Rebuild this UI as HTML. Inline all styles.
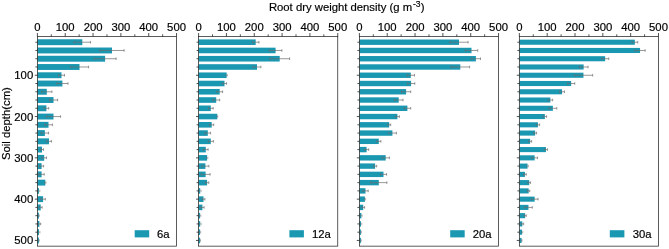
<!DOCTYPE html>
<html><head><meta charset="utf-8"><title>Root dry weight density</title>
<style>html,body{margin:0;padding:0;background:#fff;}body{width:669px;height:249px;overflow:hidden;font-family:"Liberation Sans",sans-serif;}svg text{stroke:#000;stroke-width:0.18px;}</style></head>
<body>
<svg width="669" height="249" viewBox="0 0 669 249" style="display:block;will-change:transform" font-family="Liberation Sans, sans-serif" fill="#000">
<rect width="669" height="249" fill="#fff"/>
<text x="268.9" y="11.4" font-size="11.3">Root dry weight density (g m<tspan font-size="8.5" dx="0.9" dy="-4.7">-3</tspan><tspan dy="4.7" dx="0.3">)</tspan></text>
<text transform="translate(10.1,123.6) rotate(-90)" font-size="11.3" text-anchor="middle">Soil depth(cm)</text>
<rect x="37.40" y="39.26" width="44.90" height="5.9" fill="#1a98b2"/>
<rect x="37.40" y="47.52" width="74.60" height="5.9" fill="#1a98b2"/>
<rect x="37.40" y="55.78" width="67.70" height="5.9" fill="#1a98b2"/>
<rect x="37.40" y="64.04" width="42.10" height="5.9" fill="#1a98b2"/>
<rect x="37.40" y="72.30" width="24.10" height="5.9" fill="#1a98b2"/>
<rect x="37.40" y="80.56" width="25.00" height="5.9" fill="#1a98b2"/>
<rect x="37.40" y="88.82" width="9.40" height="5.9" fill="#1a98b2"/>
<rect x="37.40" y="97.08" width="16.10" height="5.9" fill="#1a98b2"/>
<rect x="37.40" y="105.34" width="9.00" height="5.9" fill="#1a98b2"/>
<rect x="37.40" y="113.60" width="16.10" height="5.9" fill="#1a98b2"/>
<rect x="37.40" y="121.86" width="11.10" height="5.9" fill="#1a98b2"/>
<rect x="37.40" y="130.12" width="7.45" height="5.9" fill="#1a98b2"/>
<rect x="37.40" y="138.38" width="11.60" height="5.9" fill="#1a98b2"/>
<rect x="37.40" y="146.64" width="4.60" height="5.9" fill="#1a98b2"/>
<rect x="37.40" y="154.90" width="6.80" height="5.9" fill="#1a98b2"/>
<rect x="37.40" y="163.16" width="4.20" height="5.9" fill="#1a98b2"/>
<rect x="37.40" y="171.42" width="4.20" height="5.9" fill="#1a98b2"/>
<rect x="37.40" y="179.68" width="7.90" height="5.9" fill="#1a98b2"/>
<rect x="37.40" y="187.94" width="1.50" height="5.9" fill="#1a98b2"/>
<rect x="37.40" y="196.20" width="5.70" height="5.9" fill="#1a98b2"/>
<rect x="37.40" y="204.46" width="3.30" height="5.9" fill="#1a98b2"/>
<rect x="37.40" y="212.72" width="1.50" height="5.9" fill="#1a98b2"/>
<rect x="37.40" y="220.98" width="2.00" height="5.9" fill="#1a98b2"/>
<rect x="37.40" y="229.24" width="1.60" height="5.9" fill="#1a98b2"/>
<rect x="37.40" y="237.50" width="1.50" height="5.9" fill="#1a98b2"/>
<path d="M74.10 42.21H90.50M74.10 40.91v2.6M90.50 40.91v2.6" stroke="#6c6c6c" stroke-width="0.7" stroke-opacity="1" fill="none"/>
<path d="M99.90 50.47H124.10M99.90 49.17v2.6M124.10 49.17v2.6" stroke="#6c6c6c" stroke-width="0.7" stroke-opacity="1" fill="none"/>
<path d="M94.10 58.73H116.10M94.10 57.43v2.6M116.10 57.43v2.6" stroke="#6c6c6c" stroke-width="0.7" stroke-opacity="1" fill="none"/>
<path d="M70.40 66.99H88.60M70.40 65.69v2.6M88.60 65.69v2.6" stroke="#6c6c6c" stroke-width="0.7" stroke-opacity="1" fill="none"/>
<path d="M58.50 75.25H64.50M58.50 73.95v2.6M64.50 73.95v2.6" stroke="#6c6c6c" stroke-width="0.7" stroke-opacity="1" fill="none"/>
<path d="M56.80 83.51H68.00M56.80 82.21v2.6M68.00 82.21v2.6" stroke="#6c6c6c" stroke-width="0.7" stroke-opacity="1" fill="none"/>
<path d="M41.70 91.77H51.90M41.70 90.47v2.6M51.90 90.47v2.6" stroke="#6c6c6c" stroke-width="0.7" stroke-opacity="1" fill="none"/>
<path d="M49.40 100.03H57.60M49.40 98.73v2.6M57.60 98.73v2.6" stroke="#6c6c6c" stroke-width="0.7" stroke-opacity="1" fill="none"/>
<path d="M44.10 108.29H48.70M44.10 106.99v2.6M48.70 106.99v2.6" stroke="#6c6c6c" stroke-width="0.7" stroke-opacity="1" fill="none"/>
<path d="M46.40 116.55H60.60M46.40 115.25v2.6M60.60 115.25v2.6" stroke="#6c6c6c" stroke-width="0.7" stroke-opacity="1" fill="none"/>
<path d="M44.60 124.81H52.40M44.60 123.51v2.6M52.40 123.51v2.6" stroke="#6c6c6c" stroke-width="0.7" stroke-opacity="1" fill="none"/>
<path d="M41.15 133.07H48.55M41.15 131.77v2.6M48.55 131.77v2.6" stroke="#6c6c6c" stroke-width="0.7" stroke-opacity="1" fill="none"/>
<path d="M46.60 141.33H51.40M46.60 140.03v2.6M51.40 140.03v2.6" stroke="#6c6c6c" stroke-width="0.7" stroke-opacity="1" fill="none"/>
<path d="M40.50 149.59H43.50M40.50 148.29v2.6M43.50 148.29v2.6" stroke="#6c6c6c" stroke-width="0.7" stroke-opacity="1" fill="none"/>
<path d="M41.90 157.85H46.50M41.90 156.55v2.6M46.50 156.55v2.6" stroke="#6c6c6c" stroke-width="0.7" stroke-opacity="1" fill="none"/>
<path d="M39.60 166.11H43.60M39.60 164.81v2.6M43.60 164.81v2.6" stroke="#6c6c6c" stroke-width="0.7" stroke-opacity="1" fill="none"/>
<path d="M39.00 174.37H44.20M39.00 173.07v2.6M44.20 173.07v2.6" stroke="#6c6c6c" stroke-width="0.7" stroke-opacity="1" fill="none"/>
<path d="M44.60 182.63H46.00M44.60 181.33v2.6M46.00 181.33v2.6" stroke="#6c6c6c" stroke-width="0.7" stroke-opacity="0.6" fill="none"/>
<path d="M37.90 190.89H39.90M37.90 189.59v2.6M39.90 189.59v2.6" stroke="#6c6c6c" stroke-width="0.7" stroke-opacity="0.6" fill="none"/>
<path d="M40.90 199.15H45.30M40.90 197.85v2.6M45.30 197.85v2.6" stroke="#6c6c6c" stroke-width="0.7" stroke-opacity="1" fill="none"/>
<path d="M39.30 207.41H42.10M39.30 206.11v2.6M42.10 206.11v2.6" stroke="#6c6c6c" stroke-width="0.7" stroke-opacity="1" fill="none"/>
<path d="M38.40 215.67H39.40M38.40 214.37v2.6M39.40 214.37v2.6" stroke="#6c6c6c" stroke-width="0.7" stroke-opacity="0.6" fill="none"/>
<path d="M38.10 223.93H40.70M38.10 222.63v2.6M40.70 222.63v2.6" stroke="#6c6c6c" stroke-width="0.7" stroke-opacity="1" fill="none"/>
<path d="M38.00 232.19H40.00M38.00 230.89v2.6M40.00 230.89v2.6" stroke="#6c6c6c" stroke-width="0.7" stroke-opacity="0.6" fill="none"/>
<path d="M38.40 240.45H39.40M38.40 239.15v2.6M39.40 239.15v2.6" stroke="#6c6c6c" stroke-width="0.7" stroke-opacity="0.6" fill="none"/>
<rect x="37.40" y="36.5" width="139.15" height="209.65" fill="none" stroke="#262626" stroke-width="0.75"/>
<path d="M37.40 36.5v-3.5M51.31 36.5v-2.2M65.23 36.5v-3.5M79.14 36.5v-2.2M93.06 36.5v-3.5M106.97 36.5v-2.2M120.89 36.5v-3.5M134.81 36.5v-2.2M148.72 36.5v-3.5M162.63 36.5v-2.2M176.55 36.5v-3.5M37.40 42.21h-2.0M37.40 50.47h-2.0M37.40 58.73h-2.0M37.40 66.99h-2.0M37.40 75.25h-2.6M37.40 83.51h-2.0M37.40 91.77h-2.0M37.40 100.03h-2.0M37.40 108.29h-2.0M37.40 116.55h-2.6M37.40 124.81h-2.0M37.40 133.07h-2.0M37.40 141.33h-2.0M37.40 149.59h-2.0M37.40 157.85h-2.6M37.40 166.11h-2.0M37.40 174.37h-2.0M37.40 182.63h-2.0M37.40 190.89h-2.0M37.40 199.15h-2.6M37.40 207.41h-2.0M37.40 215.67h-2.0M37.40 223.93h-2.0M37.40 232.19h-2.0M37.40 240.45h-2.6" stroke="#262626" stroke-width="0.8" fill="none"/>
<text x="37.40" y="30.8" font-size="11.3" text-anchor="middle" >0</text>
<text x="65.23" y="30.8" font-size="11.3" text-anchor="middle" >100</text>
<text x="93.06" y="30.8" font-size="11.3" text-anchor="middle" >200</text>
<text x="120.89" y="30.8" font-size="11.3" text-anchor="middle" >300</text>
<text x="148.72" y="30.8" font-size="11.3" text-anchor="middle" >400</text>
<text x="176.55" y="30.8" font-size="11.3" text-anchor="middle" >500</text>
<text x="169.65" y="237.7" font-size="11.3" text-anchor="end">6a</text>
<rect x="198.60" y="39.41" width="57.10" height="5.6" fill="#1a98b2"/>
<rect x="198.60" y="47.67" width="77.00" height="5.6" fill="#1a98b2"/>
<rect x="198.60" y="55.93" width="81.10" height="5.6" fill="#1a98b2"/>
<rect x="198.60" y="64.19" width="58.40" height="5.6" fill="#1a98b2"/>
<rect x="198.60" y="72.45" width="28.05" height="5.6" fill="#1a98b2"/>
<rect x="198.60" y="80.71" width="25.90" height="5.6" fill="#1a98b2"/>
<rect x="198.60" y="88.97" width="21.10" height="5.6" fill="#1a98b2"/>
<rect x="198.60" y="97.23" width="17.60" height="5.6" fill="#1a98b2"/>
<rect x="198.60" y="105.49" width="12.20" height="5.6" fill="#1a98b2"/>
<rect x="198.60" y="113.75" width="18.70" height="5.6" fill="#1a98b2"/>
<rect x="198.60" y="122.01" width="13.10" height="5.6" fill="#1a98b2"/>
<rect x="198.60" y="130.27" width="9.20" height="5.6" fill="#1a98b2"/>
<rect x="198.60" y="138.53" width="12.20" height="5.6" fill="#1a98b2"/>
<rect x="198.60" y="146.79" width="7.20" height="5.6" fill="#1a98b2"/>
<rect x="198.60" y="155.05" width="8.50" height="5.6" fill="#1a98b2"/>
<rect x="198.60" y="163.31" width="6.80" height="5.6" fill="#1a98b2"/>
<rect x="198.60" y="171.57" width="7.00" height="5.6" fill="#1a98b2"/>
<rect x="198.60" y="179.83" width="8.50" height="5.6" fill="#1a98b2"/>
<rect x="198.60" y="188.09" width="1.60" height="5.6" fill="#1a98b2"/>
<rect x="198.60" y="196.35" width="4.90" height="5.6" fill="#1a98b2"/>
<rect x="198.60" y="204.61" width="3.80" height="5.6" fill="#1a98b2"/>
<rect x="198.60" y="212.87" width="1.50" height="5.6" fill="#1a98b2"/>
<rect x="198.60" y="221.13" width="1.60" height="5.6" fill="#1a98b2"/>
<rect x="198.60" y="229.39" width="1.50" height="5.6" fill="#1a98b2"/>
<rect x="198.60" y="237.65" width="1.50" height="5.6" fill="#1a98b2"/>
<path d="M252.45 42.21H258.95M252.45 40.91v2.6M258.95 40.91v2.6" stroke="#6c6c6c" stroke-width="0.7" stroke-opacity="1" fill="none"/>
<path d="M269.30 50.47H281.90M269.30 49.17v2.6M281.90 49.17v2.6" stroke="#6c6c6c" stroke-width="0.7" stroke-opacity="1" fill="none"/>
<path d="M269.80 58.73H289.60M269.80 57.43v2.6M289.60 57.43v2.6" stroke="#6c6c6c" stroke-width="0.7" stroke-opacity="1" fill="none"/>
<path d="M253.10 66.99H260.90M253.10 65.69v2.6M260.90 65.69v2.6" stroke="#6c6c6c" stroke-width="0.7" stroke-opacity="1" fill="none"/>
<path d="M225.85 75.25H227.45M225.85 73.95v2.6M227.45 73.95v2.6" stroke="#6c6c6c" stroke-width="0.7" stroke-opacity="0.6" fill="none"/>
<path d="M222.40 83.51H226.60M222.40 82.21v2.6M226.60 82.21v2.6" stroke="#6c6c6c" stroke-width="0.7" stroke-opacity="1" fill="none"/>
<path d="M216.80 91.77H222.60M216.80 90.47v2.6M222.60 90.47v2.6" stroke="#6c6c6c" stroke-width="0.7" stroke-opacity="1" fill="none"/>
<path d="M212.70 100.03H219.70M212.70 98.73v2.6M219.70 98.73v2.6" stroke="#6c6c6c" stroke-width="0.7" stroke-opacity="1" fill="none"/>
<path d="M208.40 108.29H213.20M208.40 106.99v2.6M213.20 106.99v2.6" stroke="#6c6c6c" stroke-width="0.7" stroke-opacity="1" fill="none"/>
<path d="M216.80 116.55H217.80M216.80 115.25v2.6M217.80 115.25v2.6" stroke="#6c6c6c" stroke-width="0.7" stroke-opacity="0.6" fill="none"/>
<path d="M209.70 124.81H213.70M209.70 123.51v2.6M213.70 123.51v2.6" stroke="#6c6c6c" stroke-width="0.7" stroke-opacity="1" fill="none"/>
<path d="M205.00 133.07H210.60M205.00 131.77v2.6M210.60 131.77v2.6" stroke="#6c6c6c" stroke-width="0.7" stroke-opacity="1" fill="none"/>
<path d="M208.20 141.33H213.40M208.20 140.03v2.6M213.40 140.03v2.6" stroke="#6c6c6c" stroke-width="0.7" stroke-opacity="1" fill="none"/>
<path d="M203.50 149.59H208.10M203.50 148.29v2.6M208.10 148.29v2.6" stroke="#6c6c6c" stroke-width="0.7" stroke-opacity="1" fill="none"/>
<path d="M206.30 157.85H207.90M206.30 156.55v2.6M207.90 156.55v2.6" stroke="#6c6c6c" stroke-width="0.7" stroke-opacity="0.6" fill="none"/>
<path d="M201.90 166.11H208.90M201.90 164.81v2.6M208.90 164.81v2.6" stroke="#6c6c6c" stroke-width="0.7" stroke-opacity="1" fill="none"/>
<path d="M201.10 174.37H210.10M201.10 173.07v2.6M210.10 173.07v2.6" stroke="#6c6c6c" stroke-width="0.7" stroke-opacity="1" fill="none"/>
<path d="M205.40 182.63H208.80M205.40 181.33v2.6M208.80 181.33v2.6" stroke="#6c6c6c" stroke-width="0.7" stroke-opacity="1" fill="none"/>
<path d="M199.20 190.89H201.20M199.20 189.59v2.6M201.20 189.59v2.6" stroke="#6c6c6c" stroke-width="0.7" stroke-opacity="0.6" fill="none"/>
<path d="M202.10 199.15H204.90M202.10 197.85v2.6M204.90 197.85v2.6" stroke="#6c6c6c" stroke-width="0.7" stroke-opacity="1" fill="none"/>
<path d="M200.70 207.41H204.10M200.70 206.11v2.6M204.10 206.11v2.6" stroke="#6c6c6c" stroke-width="0.7" stroke-opacity="1" fill="none"/>
<path d="M199.30 215.67H200.90M199.30 214.37v2.6M200.90 214.37v2.6" stroke="#6c6c6c" stroke-width="0.7" stroke-opacity="0.6" fill="none"/>
<path d="M199.20 223.93H201.20M199.20 222.63v2.6M201.20 222.63v2.6" stroke="#6c6c6c" stroke-width="0.7" stroke-opacity="0.6" fill="none"/>
<path d="M199.50 232.19H200.70M199.50 230.89v2.6M200.70 230.89v2.6" stroke="#6c6c6c" stroke-width="0.7" stroke-opacity="0.6" fill="none"/>
<path d="M199.70 240.45H200.50M199.70 239.15v2.6M200.50 239.15v2.6" stroke="#6c6c6c" stroke-width="0.7" stroke-opacity="0.6" fill="none"/>
<rect x="198.60" y="36.5" width="139.15" height="209.65" fill="none" stroke="#262626" stroke-width="0.75"/>
<path d="M198.60 36.5v-3.5M212.51 36.5v-2.2M226.43 36.5v-3.5M240.34 36.5v-2.2M254.26 36.5v-3.5M268.18 36.5v-2.2M282.09 36.5v-3.5M296.00 36.5v-2.2M309.92 36.5v-3.5M323.83 36.5v-2.2M337.75 36.5v-3.5M198.60 42.21h-2.0M198.60 50.47h-2.0M198.60 58.73h-2.0M198.60 66.99h-2.0M198.60 75.25h-2.6M198.60 83.51h-2.0M198.60 91.77h-2.0M198.60 100.03h-2.0M198.60 108.29h-2.0M198.60 116.55h-2.6M198.60 124.81h-2.0M198.60 133.07h-2.0M198.60 141.33h-2.0M198.60 149.59h-2.0M198.60 157.85h-2.6M198.60 166.11h-2.0M198.60 174.37h-2.0M198.60 182.63h-2.0M198.60 190.89h-2.0M198.60 199.15h-2.6M198.60 207.41h-2.0M198.60 215.67h-2.0M198.60 223.93h-2.0M198.60 232.19h-2.0M198.60 240.45h-2.6" stroke="#262626" stroke-width="0.8" fill="none"/>
<text x="198.60" y="30.8" font-size="11.3" text-anchor="middle" >0</text>
<text x="226.43" y="30.8" font-size="11.3" text-anchor="middle" >100</text>
<text x="254.26" y="30.8" font-size="11.3" text-anchor="middle" >200</text>
<text x="282.09" y="30.8" font-size="11.3" text-anchor="middle" >300</text>
<text x="309.92" y="30.8" font-size="11.3" text-anchor="middle" >400</text>
<text x="337.75" y="30.8" font-size="11.3" text-anchor="middle" >500</text>
<text x="330.85" y="237.7" font-size="11.3" text-anchor="end">12a</text>
<rect x="359.40" y="39.51" width="99.60" height="5.4" fill="#1a98b2"/>
<rect x="359.40" y="47.77" width="112.10" height="5.4" fill="#1a98b2"/>
<rect x="359.40" y="56.03" width="116.50" height="5.4" fill="#1a98b2"/>
<rect x="359.40" y="64.29" width="100.90" height="5.4" fill="#1a98b2"/>
<rect x="359.40" y="72.55" width="51.40" height="5.4" fill="#1a98b2"/>
<rect x="359.40" y="80.81" width="51.70" height="5.4" fill="#1a98b2"/>
<rect x="359.40" y="89.07" width="46.70" height="5.4" fill="#1a98b2"/>
<rect x="359.40" y="97.33" width="39.30" height="5.4" fill="#1a98b2"/>
<rect x="359.40" y="105.59" width="48.00" height="5.4" fill="#1a98b2"/>
<rect x="359.40" y="113.85" width="38.00" height="5.4" fill="#1a98b2"/>
<rect x="359.40" y="122.11" width="29.80" height="5.4" fill="#1a98b2"/>
<rect x="359.40" y="130.37" width="33.00" height="5.4" fill="#1a98b2"/>
<rect x="359.40" y="138.63" width="19.40" height="5.4" fill="#1a98b2"/>
<rect x="359.40" y="146.89" width="7.20" height="5.4" fill="#1a98b2"/>
<rect x="359.40" y="155.15" width="26.30" height="5.4" fill="#1a98b2"/>
<rect x="359.40" y="163.41" width="15.70" height="5.4" fill="#1a98b2"/>
<rect x="359.40" y="171.67" width="24.10" height="5.4" fill="#1a98b2"/>
<rect x="359.40" y="179.93" width="19.40" height="5.4" fill="#1a98b2"/>
<rect x="359.40" y="188.19" width="6.10" height="5.4" fill="#1a98b2"/>
<rect x="359.40" y="196.45" width="5.50" height="5.4" fill="#1a98b2"/>
<rect x="359.40" y="204.71" width="3.80" height="5.4" fill="#1a98b2"/>
<rect x="359.40" y="212.97" width="2.00" height="5.4" fill="#1a98b2"/>
<rect x="359.40" y="221.23" width="1.60" height="5.4" fill="#1a98b2"/>
<rect x="359.40" y="229.49" width="1.50" height="5.4" fill="#1a98b2"/>
<rect x="359.40" y="237.75" width="1.50" height="5.4" fill="#1a98b2"/>
<path d="M449.90 42.21H468.10M449.90 40.91v2.6M468.10 40.91v2.6" stroke="#6c6c6c" stroke-width="0.7" stroke-opacity="1" fill="none"/>
<path d="M465.30 50.47H477.70M465.30 49.17v2.6M477.70 49.17v2.6" stroke="#6c6c6c" stroke-width="0.7" stroke-opacity="1" fill="none"/>
<path d="M471.30 58.73H480.50M471.30 57.43v2.6M480.50 57.43v2.6" stroke="#6c6c6c" stroke-width="0.7" stroke-opacity="1" fill="none"/>
<path d="M451.00 66.99H469.60M451.00 65.69v2.6M469.60 65.69v2.6" stroke="#6c6c6c" stroke-width="0.7" stroke-opacity="1" fill="none"/>
<path d="M407.10 75.25H414.50M407.10 73.95v2.6M414.50 73.95v2.6" stroke="#6c6c6c" stroke-width="0.7" stroke-opacity="1" fill="none"/>
<path d="M407.40 83.51H414.80M407.40 82.21v2.6M414.80 82.21v2.6" stroke="#6c6c6c" stroke-width="0.7" stroke-opacity="1" fill="none"/>
<path d="M401.50 91.77H410.70M401.50 90.47v2.6M410.70 90.47v2.6" stroke="#6c6c6c" stroke-width="0.7" stroke-opacity="1" fill="none"/>
<path d="M394.40 100.03H403.00M394.40 98.73v2.6M403.00 98.73v2.6" stroke="#6c6c6c" stroke-width="0.7" stroke-opacity="1" fill="none"/>
<path d="M404.10 108.29H410.70M404.10 106.99v2.6M410.70 106.99v2.6" stroke="#6c6c6c" stroke-width="0.7" stroke-opacity="1" fill="none"/>
<path d="M395.40 116.55H399.40M395.40 115.25v2.6M399.40 115.25v2.6" stroke="#6c6c6c" stroke-width="0.7" stroke-opacity="1" fill="none"/>
<path d="M387.70 124.81H390.70M387.70 123.51v2.6M390.70 123.51v2.6" stroke="#6c6c6c" stroke-width="0.7" stroke-opacity="1" fill="none"/>
<path d="M388.40 133.07H396.40M388.40 131.77v2.6M396.40 131.77v2.6" stroke="#6c6c6c" stroke-width="0.7" stroke-opacity="1" fill="none"/>
<path d="M376.70 141.33H380.90M376.70 140.03v2.6M380.90 140.03v2.6" stroke="#6c6c6c" stroke-width="0.7" stroke-opacity="1" fill="none"/>
<path d="M364.50 149.59H368.70M364.50 148.29v2.6M368.70 148.29v2.6" stroke="#6c6c6c" stroke-width="0.7" stroke-opacity="1" fill="none"/>
<path d="M382.00 157.85H389.40M382.00 156.55v2.6M389.40 156.55v2.6" stroke="#6c6c6c" stroke-width="0.7" stroke-opacity="1" fill="none"/>
<path d="M373.50 166.11H376.70M373.50 164.81v2.6M376.70 164.81v2.6" stroke="#6c6c6c" stroke-width="0.7" stroke-opacity="1" fill="none"/>
<path d="M380.40 174.37H386.60M380.40 173.07v2.6M386.60 173.07v2.6" stroke="#6c6c6c" stroke-width="0.7" stroke-opacity="1" fill="none"/>
<path d="M370.70 182.63H386.90M370.70 181.33v2.6M386.90 181.33v2.6" stroke="#6c6c6c" stroke-width="0.7" stroke-opacity="1" fill="none"/>
<path d="M362.80 190.89H368.20M362.80 189.59v2.6M368.20 189.59v2.6" stroke="#6c6c6c" stroke-width="0.7" stroke-opacity="1" fill="none"/>
<path d="M364.20 199.15H365.60M364.20 197.85v2.6M365.60 197.85v2.6" stroke="#6c6c6c" stroke-width="0.7" stroke-opacity="0.6" fill="none"/>
<path d="M361.80 207.41H364.60M361.80 206.11v2.6M364.60 206.11v2.6" stroke="#6c6c6c" stroke-width="0.7" stroke-opacity="1" fill="none"/>
<path d="M360.60 215.67H362.20M360.60 214.37v2.6M362.20 214.37v2.6" stroke="#6c6c6c" stroke-width="0.7" stroke-opacity="0.6" fill="none"/>
<path d="M360.20 223.93H361.80M360.20 222.63v2.6M361.80 222.63v2.6" stroke="#6c6c6c" stroke-width="0.7" stroke-opacity="0.6" fill="none"/>
<path d="M360.30 232.19H361.50M360.30 230.89v2.6M361.50 230.89v2.6" stroke="#6c6c6c" stroke-width="0.7" stroke-opacity="0.6" fill="none"/>
<path d="M360.40 240.45H361.40M360.40 239.15v2.6M361.40 239.15v2.6" stroke="#6c6c6c" stroke-width="0.7" stroke-opacity="0.6" fill="none"/>
<rect x="359.40" y="36.5" width="139.15" height="209.65" fill="none" stroke="#262626" stroke-width="0.75"/>
<path d="M359.40 36.5v-3.5M373.31 36.5v-2.2M387.23 36.5v-3.5M401.14 36.5v-2.2M415.06 36.5v-3.5M428.97 36.5v-2.2M442.89 36.5v-3.5M456.80 36.5v-2.2M470.72 36.5v-3.5M484.63 36.5v-2.2M498.55 36.5v-3.5M359.40 42.21h-2.0M359.40 50.47h-2.0M359.40 58.73h-2.0M359.40 66.99h-2.0M359.40 75.25h-2.6M359.40 83.51h-2.0M359.40 91.77h-2.0M359.40 100.03h-2.0M359.40 108.29h-2.0M359.40 116.55h-2.6M359.40 124.81h-2.0M359.40 133.07h-2.0M359.40 141.33h-2.0M359.40 149.59h-2.0M359.40 157.85h-2.6M359.40 166.11h-2.0M359.40 174.37h-2.0M359.40 182.63h-2.0M359.40 190.89h-2.0M359.40 199.15h-2.6M359.40 207.41h-2.0M359.40 215.67h-2.0M359.40 223.93h-2.0M359.40 232.19h-2.0M359.40 240.45h-2.6" stroke="#262626" stroke-width="0.8" fill="none"/>
<text x="359.40" y="30.8" font-size="11.3" text-anchor="middle" >0</text>
<text x="387.23" y="30.8" font-size="11.3" text-anchor="middle" >100</text>
<text x="415.06" y="30.8" font-size="11.3" text-anchor="middle" >200</text>
<text x="442.89" y="30.8" font-size="11.3" text-anchor="middle" >300</text>
<text x="470.72" y="30.8" font-size="11.3" text-anchor="middle" >400</text>
<text x="498.55" y="30.8" font-size="11.3" text-anchor="middle" >500</text>
<text x="491.65" y="237.7" font-size="11.3" text-anchor="end">20a</text>
<rect x="519.35" y="39.66" width="115.50" height="5.1" fill="#1a98b2"/>
<rect x="519.35" y="47.92" width="120.70" height="5.1" fill="#1a98b2"/>
<rect x="519.35" y="56.18" width="85.80" height="5.1" fill="#1a98b2"/>
<rect x="519.35" y="64.44" width="64.30" height="5.1" fill="#1a98b2"/>
<rect x="519.35" y="72.70" width="64.10" height="5.1" fill="#1a98b2"/>
<rect x="519.35" y="80.96" width="51.80" height="5.1" fill="#1a98b2"/>
<rect x="519.35" y="89.22" width="42.70" height="5.1" fill="#1a98b2"/>
<rect x="519.35" y="97.48" width="31.00" height="5.1" fill="#1a98b2"/>
<rect x="519.35" y="105.74" width="33.50" height="5.1" fill="#1a98b2"/>
<rect x="519.35" y="114.00" width="25.50" height="5.1" fill="#1a98b2"/>
<rect x="519.35" y="122.26" width="18.60" height="5.1" fill="#1a98b2"/>
<rect x="519.35" y="130.52" width="15.80" height="5.1" fill="#1a98b2"/>
<rect x="519.35" y="138.78" width="10.80" height="5.1" fill="#1a98b2"/>
<rect x="519.35" y="147.04" width="26.60" height="5.1" fill="#1a98b2"/>
<rect x="519.35" y="155.30" width="15.30" height="5.1" fill="#1a98b2"/>
<rect x="519.35" y="163.56" width="8.20" height="5.1" fill="#1a98b2"/>
<rect x="519.35" y="171.82" width="5.60" height="5.1" fill="#1a98b2"/>
<rect x="519.35" y="180.08" width="9.90" height="5.1" fill="#1a98b2"/>
<rect x="519.35" y="188.34" width="9.30" height="5.1" fill="#1a98b2"/>
<rect x="519.35" y="196.60" width="15.30" height="5.1" fill="#1a98b2"/>
<rect x="519.35" y="204.86" width="9.10" height="5.1" fill="#1a98b2"/>
<rect x="519.35" y="213.12" width="5.80" height="5.1" fill="#1a98b2"/>
<rect x="519.35" y="221.38" width="3.00" height="5.1" fill="#1a98b2"/>
<rect x="519.35" y="229.64" width="2.70" height="5.1" fill="#1a98b2"/>
<rect x="519.35" y="237.90" width="2.20" height="5.1" fill="#1a98b2"/>
<path d="M631.95 42.21H637.75M631.95 40.91v2.6M637.75 40.91v2.6" stroke="#6c6c6c" stroke-width="0.7" stroke-opacity="1" fill="none"/>
<path d="M634.95 50.47H645.15M634.95 49.17v2.6M645.15 49.17v2.6" stroke="#6c6c6c" stroke-width="0.7" stroke-opacity="1" fill="none"/>
<path d="M601.55 58.73H608.75M601.55 57.43v2.6M608.75 57.43v2.6" stroke="#6c6c6c" stroke-width="0.7" stroke-opacity="1" fill="none"/>
<path d="M579.25 66.99H588.05M579.25 65.69v2.6M588.05 65.69v2.6" stroke="#6c6c6c" stroke-width="0.7" stroke-opacity="1" fill="none"/>
<path d="M574.25 75.25H592.65M574.25 73.95v2.6M592.65 73.95v2.6" stroke="#6c6c6c" stroke-width="0.7" stroke-opacity="1" fill="none"/>
<path d="M567.55 83.51H574.75M567.55 82.21v2.6M574.75 82.21v2.6" stroke="#6c6c6c" stroke-width="0.7" stroke-opacity="1" fill="none"/>
<path d="M559.65 91.77H564.45M559.65 90.47v2.6M564.45 90.47v2.6" stroke="#6c6c6c" stroke-width="0.7" stroke-opacity="1" fill="none"/>
<path d="M548.05 100.03H552.65M548.05 98.73v2.6M552.65 98.73v2.6" stroke="#6c6c6c" stroke-width="0.7" stroke-opacity="1" fill="none"/>
<path d="M548.95 108.29H556.75M548.95 106.99v2.6M556.75 106.99v2.6" stroke="#6c6c6c" stroke-width="0.7" stroke-opacity="1" fill="none"/>
<path d="M543.15 116.55H546.55M543.15 115.25v2.6M546.55 115.25v2.6" stroke="#6c6c6c" stroke-width="0.7" stroke-opacity="1" fill="none"/>
<path d="M536.25 124.81H539.65M536.25 123.51v2.6M539.65 123.51v2.6" stroke="#6c6c6c" stroke-width="0.7" stroke-opacity="1" fill="none"/>
<path d="M533.75 133.07H536.55M533.75 131.77v2.6M536.55 131.77v2.6" stroke="#6c6c6c" stroke-width="0.7" stroke-opacity="1" fill="none"/>
<path d="M528.65 141.33H531.65M528.65 140.03v2.6M531.65 140.03v2.6" stroke="#6c6c6c" stroke-width="0.7" stroke-opacity="1" fill="none"/>
<path d="M544.35 149.59H547.55M544.35 148.29v2.6M547.55 148.29v2.6" stroke="#6c6c6c" stroke-width="0.7" stroke-opacity="1" fill="none"/>
<path d="M531.75 157.85H537.55M531.75 156.55v2.6M537.55 156.55v2.6" stroke="#6c6c6c" stroke-width="0.7" stroke-opacity="1" fill="none"/>
<path d="M526.65 166.11H528.45M526.65 164.81v2.6M528.45 164.81v2.6" stroke="#6c6c6c" stroke-width="0.7" stroke-opacity="0.6" fill="none"/>
<path d="M523.65 174.37H526.25M523.65 173.07v2.6M526.25 173.07v2.6" stroke="#6c6c6c" stroke-width="0.7" stroke-opacity="1" fill="none"/>
<path d="M528.05 182.63H530.45M528.05 181.33v2.6M530.45 181.33v2.6" stroke="#6c6c6c" stroke-width="0.7" stroke-opacity="1" fill="none"/>
<path d="M527.55 190.89H529.75M527.55 189.59v2.6M529.75 189.59v2.6" stroke="#6c6c6c" stroke-width="0.7" stroke-opacity="1" fill="none"/>
<path d="M531.25 199.15H538.05M531.25 197.85v2.6M538.05 197.85v2.6" stroke="#6c6c6c" stroke-width="0.7" stroke-opacity="1" fill="none"/>
<path d="M524.65 207.41H532.25M524.65 206.11v2.6M532.25 206.11v2.6" stroke="#6c6c6c" stroke-width="0.7" stroke-opacity="1" fill="none"/>
<path d="M524.05 215.67H526.25M524.05 214.37v2.6M526.25 214.37v2.6" stroke="#6c6c6c" stroke-width="0.7" stroke-opacity="1" fill="none"/>
<path d="M521.05 223.93H523.65M521.05 222.63v2.6M523.65 222.63v2.6" stroke="#6c6c6c" stroke-width="0.7" stroke-opacity="1" fill="none"/>
<path d="M521.25 232.19H522.85M521.25 230.89v2.6M522.85 230.89v2.6" stroke="#6c6c6c" stroke-width="0.7" stroke-opacity="0.6" fill="none"/>
<path d="M520.95 240.45H522.15M520.95 239.15v2.6M522.15 239.15v2.6" stroke="#6c6c6c" stroke-width="0.7" stroke-opacity="0.6" fill="none"/>
<rect x="519.35" y="36.5" width="139.15" height="209.65" fill="none" stroke="#262626" stroke-width="0.75"/>
<path d="M519.35 36.5v-3.5M533.26 36.5v-2.2M547.18 36.5v-3.5M561.10 36.5v-2.2M575.01 36.5v-3.5M588.93 36.5v-2.2M602.84 36.5v-3.5M616.75 36.5v-2.2M630.67 36.5v-3.5M644.59 36.5v-2.2M658.50 36.5v-3.5M519.35 42.21h-2.0M519.35 50.47h-2.0M519.35 58.73h-2.0M519.35 66.99h-2.0M519.35 75.25h-2.6M519.35 83.51h-2.0M519.35 91.77h-2.0M519.35 100.03h-2.0M519.35 108.29h-2.0M519.35 116.55h-2.6M519.35 124.81h-2.0M519.35 133.07h-2.0M519.35 141.33h-2.0M519.35 149.59h-2.0M519.35 157.85h-2.6M519.35 166.11h-2.0M519.35 174.37h-2.0M519.35 182.63h-2.0M519.35 190.89h-2.0M519.35 199.15h-2.6M519.35 207.41h-2.0M519.35 215.67h-2.0M519.35 223.93h-2.0M519.35 232.19h-2.0M519.35 240.45h-2.6" stroke="#262626" stroke-width="0.8" fill="none"/>
<text x="519.35" y="30.8" font-size="11.3" text-anchor="middle" >0</text>
<text x="547.18" y="30.8" font-size="11.3" text-anchor="middle" >100</text>
<text x="575.01" y="30.8" font-size="11.3" text-anchor="middle" >200</text>
<text x="602.84" y="30.8" font-size="11.3" text-anchor="middle" >300</text>
<text x="630.67" y="30.8" font-size="11.3" text-anchor="middle" >400</text>
<text x="658.50" y="30.8" font-size="11.3" text-anchor="middle" >500</text>
<text x="651.60" y="237.7" font-size="11.3" text-anchor="end">30a</text>
<text x="33.2" y="79.25" font-size="11.3" text-anchor="end">100</text>
<text x="33.2" y="120.55" font-size="11.3" text-anchor="end">200</text>
<text x="33.2" y="161.85" font-size="11.3" text-anchor="end">300</text>
<text x="33.2" y="203.15" font-size="11.3" text-anchor="end">400</text>
<text x="33.2" y="244.45" font-size="11.3" text-anchor="end">500</text>
<rect x="134.7" y="230.2" width="14.50" height="7.2" fill="#1a98b2"/>
<rect x="289.4" y="230.2" width="14.50" height="7.2" fill="#1a98b2"/>
<rect x="450.2" y="230.2" width="14.50" height="7.2" fill="#1a98b2"/>
<rect x="609.8" y="230.2" width="14.60" height="7.2" fill="#1a98b2"/>
</svg>
</body></html>
